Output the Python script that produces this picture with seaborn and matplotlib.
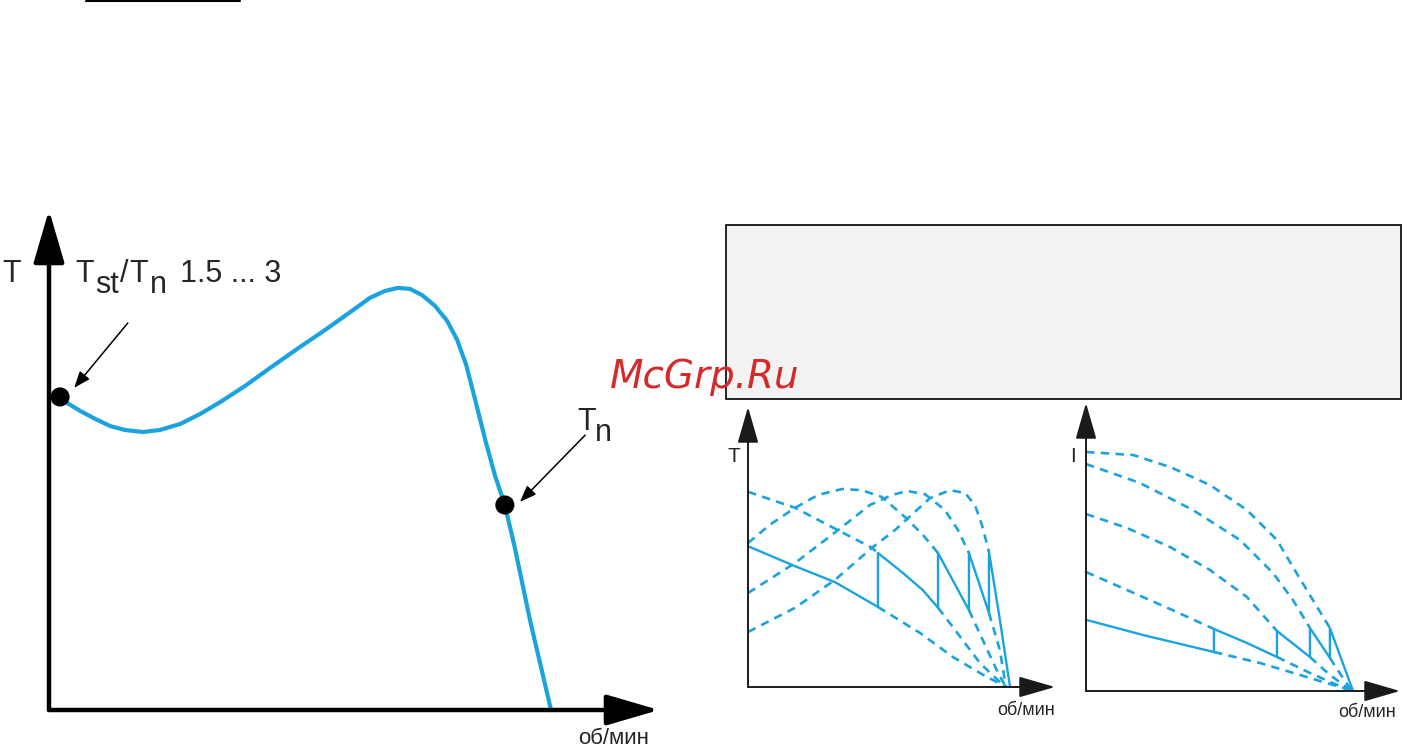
import matplotlib
matplotlib.use('Agg')
import matplotlib.pyplot as plt
import seaborn as sns
from matplotlib.patches import Rectangle
from matplotlib.lines import Line2D

# ---- data -------------------------------------------------------------
# left chart: torque T/Tn against speed (fraction of synchronous speed)
speed = [0.022, 0.036, 0.062, 0.092, 0.122, 0.151, 0.187, 0.221, 0.261, 0.301,
         0.341, 0.390, 0.440, 0.500, 0.550, 0.600, 0.639, 0.669, 0.695, 0.719,
         0.743, 0.769, 0.793, 0.813, 0.831, 0.849, 0.869, 0.888, 0.908, 0.928,
         0.958, 1.000]
torque = [1.527, 1.498, 1.459, 1.420, 1.385, 1.366, 1.356, 1.366, 1.395, 1.444,
          1.502, 1.580, 1.668, 1.771, 1.854, 1.941, 2.010, 2.044, 2.059, 2.054,
          2.024, 1.971, 1.898, 1.805, 1.683, 1.512, 1.317, 1.146, 1.000, 0.790,
          0.439, 0.000]
point_speed = [0.022, 0.908]   # Tst/Tn and Tn
point_torque = [1.527, 1.000]

# middle chart: torque with rotor resistance steps
t_step_x = [0, 0.181, 0.335, 0.5, 0.5, 0.596, 0.673, 0.731, 0.731, 0.85, 0.85,
            0.927, 0.927, 0.969, 1.008]
t_step_y = [1.76, 1.51, 1.31, 1.0, 1.675, 1.425, 1.21, 0.99, 1.675, 0.96, 1.675,
            0.925, 1.69, 0.84, 0.0]
t_c1_x = [0.5, 0.662, 0.788, 0.919, 0.981, 0.992]
t_c1_y = [1.0, 0.675, 0.375, 0.125, 0.025, 0.0]
t_c2a_x = [0, 0.181, 0.346, 0.477, 0.5]
t_c2a_y = [2.44, 2.24, 1.96, 1.74, 1.675]
t_c2b_x = [0.731, 0.788, 0.892, 0.981, 0.992]
t_c2b_y = [0.99, 0.75, 0.30, 0.025, 0.0]
t_c3a_x = [0, 0.085, 0.181, 0.269, 0.362, 0.438, 0.515, 0.612, 0.673, 0.731]
t_c3a_y = [1.8, 2.03, 2.24, 2.4, 2.475, 2.46, 2.375, 2.1, 1.9, 1.675]
t_c3b_x = [0.85, 0.912, 0.962, 0.992]
t_c3b_y = [0.96, 0.525, 0.175, 0.0]
t_c4a_x = [0, 0.181, 0.346, 0.469, 0.554, 0.612, 0.681, 0.758, 0.808, 0.85]
t_c4a_y = [1.175, 1.55, 1.96, 2.275, 2.4, 2.45, 2.41, 2.21, 1.96, 1.675]
t_c4b_x = [0.927, 0.969, 0.992]
t_c4b_y = [0.925, 0.46, 0.0]
t_c5a_x = [0, 0.181, 0.335, 0.477, 0.565, 0.642, 0.7, 0.777, 0.835, 0.873, 0.9, 0.927]
t_c5a_y = [0.6875, 0.99, 1.34, 1.74, 1.96, 2.19, 2.36, 2.46, 2.425, 2.275, 2.025, 1.69]

# right chart: current with rotor resistance steps
i_step_x = [0, 0.214, 0.481, 0.481, 0.605, 0.718, 0.718, 0.842, 0.842, 0.917,
            0.917, 1.004]
i_step_y = [1.78, 1.40, 0.975, 1.55, 1.2, 0.85, 1.5, 0.85, 1.575, 0.825, 1.575, 0.0]
i_d1_x = [0.481, 0.654, 0.805, 0.917, 0.981, 1.0]
i_d1_y = [0.975, 0.7, 0.4, 0.175, 0.05, 0.0]
i_d2a_x = [0, 0.154, 0.316, 0.481]
i_d2a_y = [2.975, 2.525, 2.05, 1.55]
i_d2b_x = [0.718, 0.842, 0.936, 1.0]
i_d2b_y = [0.85, 0.45, 0.175, 0.0]
i_d3a_x = [0, 0.154, 0.316, 0.466, 0.605, 0.718]
i_d3a_y = [4.425, 4.075, 3.6, 3.025, 2.35, 1.5]
i_d3b_x = [0.842, 0.917, 1.0]
i_d3b_y = [0.85, 0.4, 0.0]
i_d4a_x = [0, 0.203, 0.402, 0.579, 0.703, 0.778, 0.842]
i_d4a_y = [5.675, 5.2, 4.525, 3.775, 2.95, 2.275, 1.575]
i_d4b_x = [0.917, 0.966, 1.0]
i_d4b_y = [0.825, 0.325, 0.0]
i_d5a_x = [0, 0.177, 0.316, 0.466, 0.605, 0.718, 0.778, 0.853, 0.917]
i_d5a_y = [5.975, 5.9, 5.6, 5.15, 4.525, 3.775, 3.1, 2.275, 1.575]

# ---- style -------------------------------------------------------------
sns.set_style('white')
plt.rcParams['font.family'] = ['Liberation Sans', 'DejaVu Sans']
BLUE = '#1ba3dd'
DASH = (0, (3.2, 2.4))

W, H = 1403, 750
fig = plt.figure(figsize=(W / 100, H / 100), dpi=100)


def panel(left, top, right, bottom, xmax, ymax):
    # axes placed by pixel box, origin at the corner of the arrows
    ax = fig.add_axes([left / W, 1 - bottom / H, (right - left) / W, (bottom - top) / H])
    ax.set_xlim(0, xmax)
    ax.set_ylim(0, ymax)
    ax.set_axis_off()
    return ax


def axis_arrows(ax, lw, hl, hw, color):
    style = f'-|>,head_length={hl},head_width={hw}'
    for tip in [(1, 0), (0, 1)]:
        ax.annotate('', xy=tip, xytext=(0, 0), xycoords='axes fraction',
                    arrowprops=dict(arrowstyle=style, lw=lw, color=color,
                                    shrinkA=0, shrinkB=0, mutation_scale=10))


def curve(ax, xs, ys, lw, dashed=False):
    sns.lineplot(x=xs, y=ys, ax=ax, color=BLUE, lw=lw, sort=False, estimator=None,
                 legend=False, linestyle=DASH if dashed else '-', clip_on=False)


def ptext(x, y, s, **kw):
    fig.text(x / W, 1 - y / H, s, va='baseline', **kw)


# ---- left chart --------------------------------------------------------
ax1 = panel(49, 210, 659, 710, 1.215, 2.439)
curve(ax1, speed, torque, 3.0)
sns.scatterplot(x=point_speed, y=point_torque, ax=ax1, color='black', s=190,
                edgecolor='none', zorder=5, clip_on=False, legend=False)
axis_arrows(ax1, 3.2, 3.25, 0.95, 'black')
ax1.annotate('', xy=(0.05, 1.571), xytext=(0.157, 1.888),
             arrowprops=dict(arrowstyle='-|>,head_length=1.0,head_width=0.38',
                             lw=1.1, color='black', shrinkA=0, shrinkB=0, mutation_scale=10))
ax1.annotate('', xy=(0.938, 1.015), xytext=(1.068, 1.341),
             arrowprops=dict(arrowstyle='-|>,head_length=1.0,head_width=0.38',
                             lw=1.1, color='black', shrinkA=0, shrinkB=0, mutation_scale=10))

ptext(2, 282, 'T', fontsize=22)
ptext(75, 282, 'T', fontsize=22)
ptext(95, 293, 'st', fontsize=22)
ptext(120, 282, '/', fontsize=22)
ptext(129, 282, 'T', fontsize=22)
ptext(150, 293, 'n', fontsize=22)
ptext(180, 282, '1.5 ... 3', fontsize=22)
ptext(577, 430, 'T', fontsize=22)
ptext(595, 441, 'n', fontsize=22)
ptext(578, 744, 'об/мин', fontsize=16)

# ---- middle chart: torque ---------------------------------------------
ax2 = panel(748, 407, 1055, 687, 1.181, 3.5)
for xs, ys in [(t_c1_x, t_c1_y), (t_c2a_x, t_c2a_y), (t_c2b_x, t_c2b_y),
               (t_c3a_x, t_c3a_y), (t_c3b_x, t_c3b_y), (t_c4a_x, t_c4a_y),
               (t_c4b_x, t_c4b_y), (t_c5a_x, t_c5a_y)]:
    curve(ax2, xs, ys, 1.9, dashed=True)
curve(ax2, t_step_x, t_step_y, 1.7)
axis_arrows(ax2, 1.4, 2.25, 0.65, '#1a1a1a')
ptext(727, 462, 'T', fontsize=15)
ptext(997, 715, 'об/мин', fontsize=13)

# ---- right chart: current ---------------------------------------------
ax3 = panel(1086, 403, 1400, 691, 1.1805, 7.2)
for xs, ys in [(i_d1_x, i_d1_y), (i_d2a_x, i_d2a_y), (i_d2b_x, i_d2b_y),
               (i_d3a_x, i_d3a_y), (i_d3b_x, i_d3b_y), (i_d4a_x, i_d4a_y),
               (i_d4b_x, i_d4b_y), (i_d5a_x, i_d5a_y)]:
    curve(ax3, xs, ys, 1.9, dashed=True)
curve(ax3, i_step_x, i_step_y, 1.7)
axis_arrows(ax3, 1.4, 2.25, 0.65, '#1a1a1a')
ptext(1070, 462, 'I', fontsize=15)
ptext(1338, 717, 'об/мин', fontsize=13)

# ---- page furniture ----------------------------------------------------
fig.add_artist(Line2D([86 / W, 240 / W], [1 - 1 / H, 1 - 1 / H], color='black', lw=1.5))
fig.add_artist(Rectangle((726 / W, 1 - 399 / H), 675 / W, 174 / H, transform=fig.transFigure,
                         facecolor='#f3f3f3', edgecolor='black', lw=1.2, zorder=1))
fig.text(610 / W, 1 - 388 / H, 'McGrp.Ru', fontsize=28, style='oblique', color='#d42a2a',
         family=['DejaVu Sans'], va='baseline', zorder=4)

fig.savefig('out.png', dpi=100)
